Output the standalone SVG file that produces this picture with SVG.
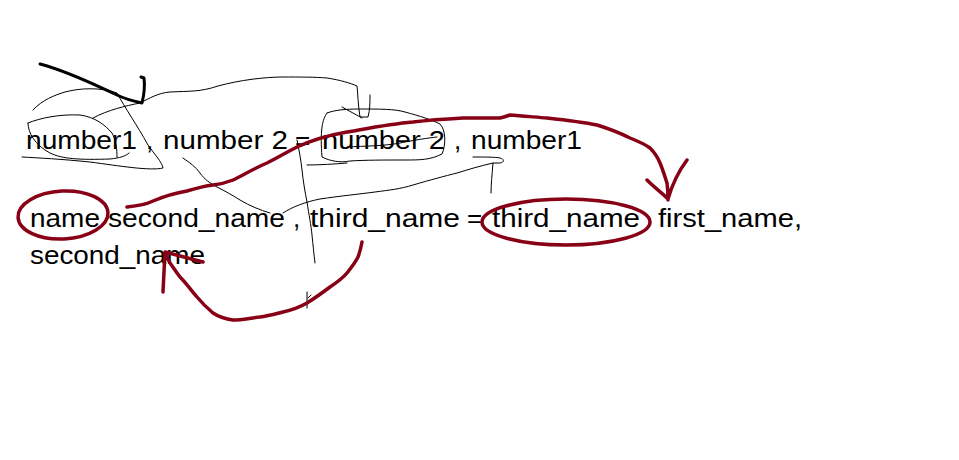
<svg xmlns="http://www.w3.org/2000/svg" width="959" height="460" viewBox="0 0 959 460">
<style>
text{font-family:"Liberation Sans","DejaVu Sans",sans-serif;font-size:26px;fill:#000}
.t{fill:none;stroke:#000;stroke-width:1;stroke-linejoin:round;stroke-linecap:round}
.k{fill:none;stroke:#000;stroke-width:3;stroke-linejoin:round;stroke-linecap:round}
.r{fill:none;stroke:#880015;stroke-width:3.5;stroke-linejoin:round;stroke-linecap:round}
</style>
<rect width="959" height="460" fill="#fff"/>
<g id="text">
<text x="26" y="149" textLength="111" lengthAdjust="spacingAndGlyphs">number1</text>
<text x="146" y="149">,</text>
<text x="163" y="149" textLength="125" lengthAdjust="spacingAndGlyphs">number 2</text>
<text x="295" y="149">=</text>
<text x="322" y="149" textLength="123" lengthAdjust="spacingAndGlyphs">number 2</text>
<text x="454" y="149">,</text>
<text x="471" y="149" textLength="111" lengthAdjust="spacingAndGlyphs">number1</text>
<text x="30" y="227" textLength="70" lengthAdjust="spacingAndGlyphs">name</text>
<text x="108" y="227" textLength="177" lengthAdjust="spacingAndGlyphs">second_name</text>
<text x="293" y="227">,</text>
<text x="310" y="227" textLength="150" lengthAdjust="spacingAndGlyphs">third_name</text>
<text x="467" y="227">=</text>
<text x="492" y="227" textLength="148" lengthAdjust="spacingAndGlyphs">third_name</text>
<text x="658" y="227" textLength="144" lengthAdjust="spacingAndGlyphs">first_name,</text>
<text x="30" y="264" textLength="175" lengthAdjust="spacingAndGlyphs">second_name</text>
</g>
<g id="black-strokes">
<path class="k" d="M40,64 C70,72 95,85 117,95 C125,99 133,101 142,103 C144,95 145,86 144,78 L141,77"/>
<path class="t" d="M33,110 C42,100 55,95 65,92 C80,88 100,87 117,93 C125,108 137,125 148,145 C155,155 162,162 163,168 C150,171 120,166 90,162 C60,159 40,158 22,157"/>
<path class="t" d="M28,123 C40,118 60,114 80,115 C95,117 105,125 112,133 C116,140 117,150 117,157 M28,123 C28,133 35,145 50,153 C62,159 80,160 110,159 C120,158 126,156 129,153"/>
<path class="t" d="M93,118 C108,110 125,106 140,103 C150,98 158,93 170,92 C190,91 200,92 218,86 C240,80 265,77 283,77 C300,77 315,77 327,78 C340,80 350,83 357,86 C358,95 358,105 360,117 L368,117 C370,110 370,102 370,95 M342,107 L362,118"/>
<path class="t" d="M327,113 C335,110 345,109 360,109 C380,109 395,109 405,112 C420,116 432,120 440,124 C446,130 446,145 442,154 C430,160 420,160 405,160 C385,160 365,160 350,161 C340,163 330,161 322,157 C321,145 321,135 322,127 C323,120 325,116 327,113"/>
<path class="t" d="M347,147 C365,146 385,146 400,143 C415,140 428,138 437,137"/>
<path class="t" d="M307,165 C320,165 335,164 347,163"/>
<path class="t" d="M473,157 C485,157 495,157 500,158 C504,159 505,162 500,163 L493,163 C492,175 491,185 491,193 M493,163 C480,166 470,169 457,173 C445,176 430,180 413,185 C400,189 390,190 375,192 C360,194 340,196 320,199 C305,202 292,207 283,213"/>
<path class="t" d="M183,158 C190,163 196,167 200,173 C205,180 210,183 217,187 C225,191 232,195 240,200 C250,206 260,210 270,213"/>
<path class="t" d="M297,140 C299,150 301,160 302,170 C303,180 305,192 307,202 C309,215 311,225 312,235 C313,245 314,255 315,263"/>
<path class="t" d="M307,292 L307,308 M308,298 L311,295"/>
</g>
<g id="red-strokes">
<ellipse class="r" cx="63" cy="215" rx="45" ry="24" transform="rotate(-3 63 215)"/>
<ellipse class="r" cx="566" cy="222" rx="84" ry="23"/>
<path class="r" d="M127,207 C137,206 145,205 153,201 C165,196 175,193 187,191 C197,188 205,186 213,185 C222,184 228,182 233,180 C245,174 255,168 267,163 C277,158 287,152 297,147 C310,141 330,135 347,132 C370,128 390,124 413,122 C430,120 445,119 463,118 C478,118 490,118 500,118 C505,117 507,116 510,115 C520,116 535,117 547,118 C565,120 582,122 597,125 C610,129 620,133 630,138 C640,142 646,145 650,148 C655,153 658,158 660,163 C663,170 665,177 667,183 C668,190 668,195 668,200 M647,180 C655,188 662,193 668,199 C672,185 678,172 687,160"/>
<path class="r" d="M362,242 C361,247 360,252 358,257 C355,263 351,268 347,273 C342,279 336,283 330,287 C322,293 315,298 307,303 C300,307 292,310 283,312 C275,314 268,316 260,317 C250,318 242,320 233,320 C225,319 219,317 213,313 C207,308 202,303 197,297 C191,290 186,283 180,277 C176,272 173,267 170,263 C168,259 166,256 165,253 M163,292 L165,252 L203,262"/>
</g>
</svg>
